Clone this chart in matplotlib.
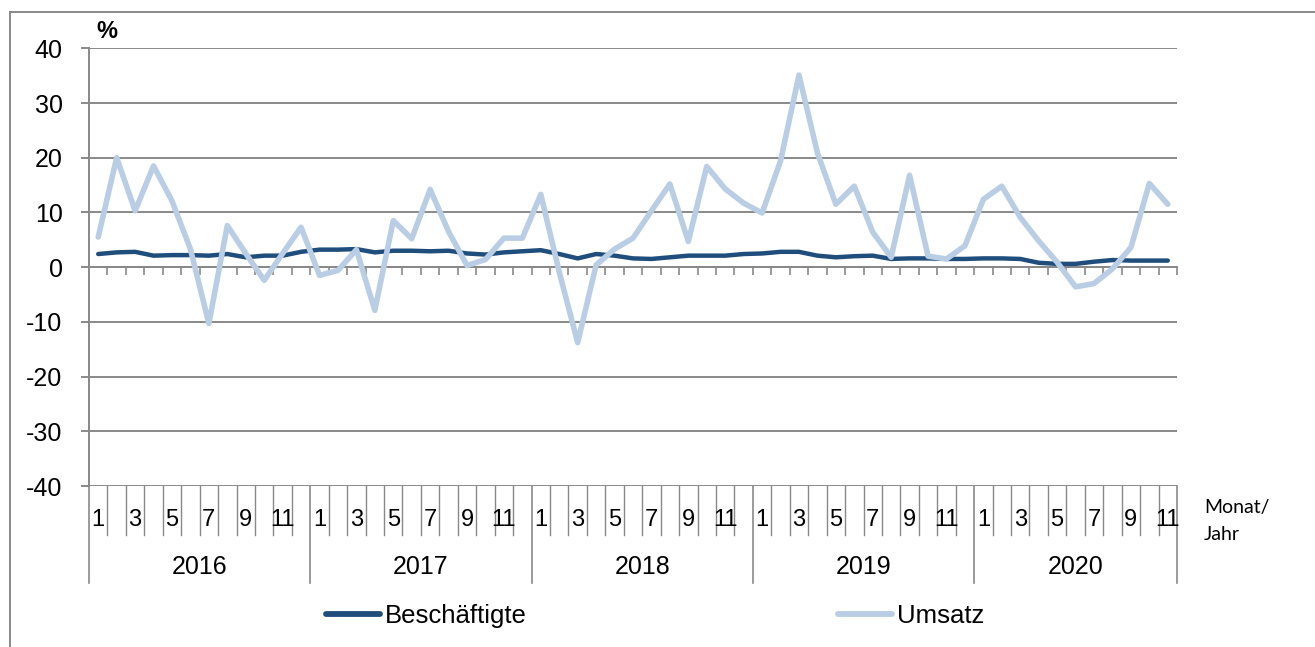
import numpy as np
import matplotlib
matplotlib.use("Agg")
import matplotlib.pyplot as plt
import matplotlib.transforms as mtransforms
from matplotlib.lines import Line2D

plt.rcParams['font.family'] = ['Liberation Sans', 'DejaVu Sans']
plt.rcParams['axes.unicode_minus'] = False

# Daten: Veränderung gegenüber Vorjahresmonat in %, Jan 2016 - Nov 2020
years = ["2016", "2017", "2018", "2019", "2020"]
month_labels = ["1", "", "3", "", "5", "", "7", "", "9", "", "11", ""]

beschaeftigte = [
    2.4, 2.7, 2.8, 2.1, 2.2, 2.2, 2.1, 2.4, 1.8, 2.1, 2.1, 2.8,
    3.2, 3.2, 3.3, 2.7, 3.0, 3.0, 2.9, 3.0, 2.5, 2.3, 2.7, 2.9,
    3.1, 2.4, 1.6, 2.4, 2.1, 1.6, 1.5, 1.8, 2.1, 2.1, 2.1, 2.4,
    2.5, 2.8, 2.8, 2.1, 1.8, 2.0, 2.1, 1.5, 1.6, 1.6, 1.5, 1.5,
    1.6, 1.6, 1.5, 0.8, 0.6, 0.6, 1.0, 1.3, 1.2, 1.2, 1.2,
]
umsatz = [
    5.5, 20.0, 10.3, 18.5, 12.1, 3.3, -10.3, 7.6, 2.5, -2.4, 2.5, 7.3,
    -1.5, -0.6, 3.2, -7.9, 8.5, 5.2, 14.2, 6.5, 0.3, 1.4, 5.3, 5.3,
    13.3, -0.9, -13.8, 0.4, 3.3, 5.3, 10.3, 15.2, 4.7, 18.4, 14.3, 11.7,
    9.9, 19.4, 35.1, 20.9, 11.5, 14.8, 6.4, 1.8, 16.8, 2.0, 1.5, 3.9,
    12.4, 14.8, 9.1, 4.8, 0.9, -3.6, -3.0, -0.3, 3.6, 15.3, 11.5,
]

W, H = 1315, 647
fig = plt.figure(figsize=(W / 100, H / 100), dpi=100)
ax = fig.add_axes([89 / W, 1 - 486 / H, (1177 - 89) / W, (486 - 48.3) / H])

n = len(umsatz)
x = np.arange(n) + 0.5
grid_c = "#898989"

ax.plot(x, beschaeftigte, color="#1F4E7D", lw=3.2, solid_capstyle="round",
        solid_joinstyle="round", zorder=3)
ax.plot(x, umsatz, color="#B9CDE5", lw=4.0, solid_capstyle="round",
        solid_joinstyle="round", zorder=4)

ax.set_xlim(0, 59)
ax.set_ylim(-40, 40)
ax.set_yticks(range(-40, 41, 10))
ax.grid(axis="y", color=grid_c, lw=1.4)
ax.set_axisbelow(True)

for s in ["top", "right"]:
    ax.spines[s].set_visible(False)
ax.spines["left"].set_color(grid_c)
ax.spines["left"].set_linewidth(1.4)
ax.spines["bottom"].set_position(("data", 0))
ax.spines["bottom"].set_color(grid_c)
ax.spines["bottom"].set_linewidth(1.4)
ax.set_xticks(np.arange(1, n + 1))
ax.set_xticklabels([])
ax.tick_params(axis="x", direction="out", length=5.5, width=1.2, color=grid_c)
ax.tick_params(axis="y", direction="out", length=6, width=1.4, color=grid_c,
               labelsize=18, pad=13)

# Kategorientabelle unter der Achse
trans = mtransforms.blended_transform_factory(ax.transData, fig.transFigure)
y_top = 1 - 486 / H
y_mon = 1 - 535 / H
y_year = 1 - 583 / H
for b in range(n + 1):
    if b % 12 == 0 or b == n:
        ax.add_line(Line2D([b, b], [y_top, y_year], transform=trans,
                           color=grid_c, lw=1.2, clip_on=False))
    else:
        ax.add_line(Line2D([b, b], [y_top, y_mon], transform=trans,
                           color=grid_c, lw=1.0, clip_on=False))

for i in range(n):
    lab = month_labels[i % 12]
    if lab:
        ax.text(i + 0.5, 1 - 520 / H, lab, transform=trans, ha="center",
                va="center", fontsize=17)
for k, yr in enumerate(years):
    start = k * 12
    end = min(start + 12, n)
    ax.text((start + end) / 2, 1 - 567 / H, yr, transform=trans,
            ha="center", va="center", fontsize=18)

fig.text(1204 / W, 1 - 507 / H, "Monat/", fontsize=14, family="Lato",
         ha="left", va="center")
fig.text(1204 / W, 1 - 534 / H, "Jahr", fontsize=14, family="Lato",
         ha="left", va="center")
fig.text(107 / W, 1 - 32 / H, "%", fontsize=17, fontweight="bold",
         ha="center", va="center")

# Legende
handles = [Line2D([], [], color="#1F4E7D", lw=4.2, solid_capstyle="round"),
           Line2D([], [], color="#B9CDE5", lw=4.2, solid_capstyle="round")]
fig.legend(handles, ["Beschäftigte", "Umsatz"], loc="center",
           bbox_to_anchor=(655 / W, 1 - 616 / H), ncol=2, frameon=False,
           fontsize=18.5, handlelength=2.1, handletextpad=0.2,
           columnspacing=12.1, borderaxespad=0, borderpad=0)

# Rahmen
fig.add_artist(Line2D([10 / W, 10 / W], [0, 1 - 12 / H], transform=fig.transFigure,
                      color=grid_c, lw=1.4))
fig.add_artist(Line2D([10 / W, 1], [1 - 12 / H, 1 - 12 / H], transform=fig.transFigure,
                      color=grid_c, lw=1.4))

fig.savefig("out.png", dpi=100)
